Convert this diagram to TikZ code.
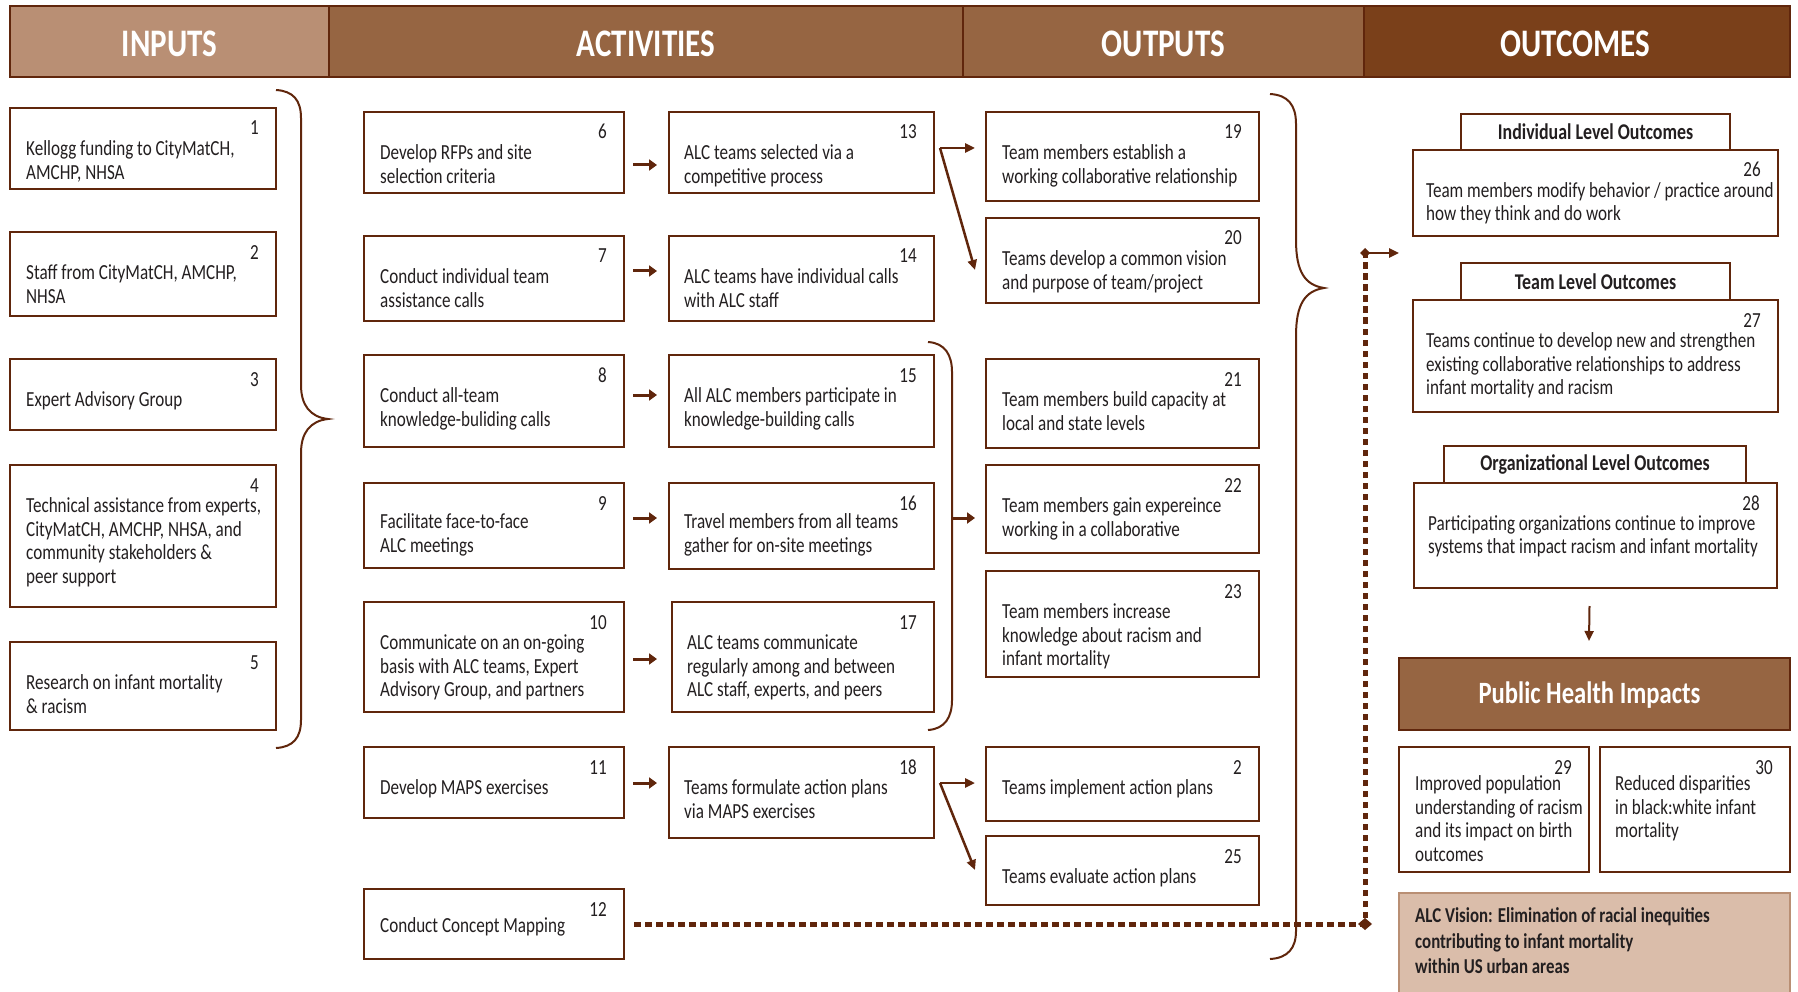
\documentclass[tikz,border=0pt]{standalone}
\usepackage{fontspec}
\setmainfont{Carlito}[FakeStretch=0.795]
\usetikzlibrary{arrows.meta,calc}
\definecolor{brd}{RGB}{96,38,12}
\definecolor{hdrA}{RGB}{185,143,116}
\definecolor{hdrB}{RGB}{150,101,66}
\definecolor{hdrC}{RGB}{122,64,26}
\definecolor{visf}{RGB}{218,189,170}
\definecolor{txtc}{RGB}{35,31,32}
\tikzset{
  lmb/.style={draw=brd, line width=2.5pt, fill=white, anchor=north west, inner sep=0pt, outer sep=0pt},
  lmnum/.style={anchor=base east, inner sep=0pt, font=\fontsize{21.5}{23.5}\selectfont, text=txtc},
  lmtxt/.style={anchor=north west, inner sep=0pt, align=left, font=\fontsize{21.5}{23.5}\selectfont, text=txtc},
  hdrtxt/.style={inner sep=0pt, font=\fontsize{39}{42}\selectfont\bfseries, text=white},
  tabtxt/.style={font=\fontsize{22.5}{24}\selectfont\bfseries, text=txtc},
  sarr/.style={draw=brd, line width=3pt, -{Triangle[length=8pt,width=11pt]}},
  farr/.style={draw=brd, line width=2.5pt, -{Triangle[length=10pt,width=9pt]}},
  bracel/.style={draw=brd, line width=2pt},
  dotl/.style={draw=brd, line width=5pt, dash pattern=on 6.5pt off 4.5pt},
}
\newcommand\lmbox[9][31]{%
  \node[lmb, minimum width=#5, minimum height=#6] (#2) at (#3,#4) {};
  \node[lmnum] (#2n) at ($(#2.north east)+(-17,27)$) {#7};
  \node[lmtxt] (#2t) at ($(#2.north west)+(#8,#1)$) {\strut #9};
}
\begin{document}
\begin{tikzpicture}[x=1pt,y=-1pt]
\useasboundingbox (0,0) rectangle (1798,992);
\fill[white] (0,0) rectangle (1798,992);

% header band
\fill[hdrA] (10,6) rectangle (329,77);
\fill[hdrB] (329,6) rectangle (1364,77);
\fill[hdrC] (1364,6) rectangle (1790,77);
\draw[brd, line width=2.5pt] (10,6) rectangle (1790,77);
\draw[brd, line width=2pt] (329,6) -- (329,77) (963,6) -- (963,77) (1364,6) -- (1364,77);
\node[hdrtxt] (hIn) at (169.5,44) {INPUTS};
\node[hdrtxt] (hAc) at (646,44) {ACTIVITIES};
\node[hdrtxt] (hOu) at (1163.5,44) {OUTPUTS};
\node[hdrtxt] (hOc) at (1575,44) {OUTCOMES};

% inputs
\lmbox{b1}{10}{108}{266}{81}{1}{16}{Kellogg funding to CityMatCH,\\AMCHP, NHSA}
\lmbox{b2}{10}{232}{266}{84}{2}{16}{Staff from CityMatCH, AMCHP,\\NHSA}
\lmbox{b3}{10}{359}{266}{71}{3}{16}{Expert Advisory Group}
\lmbox{b4}{10}{465}{266}{142}{4}{16}{Technical assistance from experts,\\CityMatCH, AMCHP, NHSA, and\\community stakeholders \&\\peer support}
\lmbox{b5}{10}{642}{266}{88}{5}{16}{Research on infant mortality\\\& racism}

% activities column 1
\lmbox{b6}{364}{112}{260}{81}{6}{16}{Develop RFPs and site\\selection criteria}
\lmbox{b7}{364}{236}{260}{85}{7}{16}{Conduct individual team\\assistance calls}
\lmbox{b8}{364}{355}{260}{92}{8}{16}{Conduct all-team\\knowledge-buliding calls}
\lmbox[29]{b9}{364}{483}{260}{85}{9}{16}{Facilitate face-to-face\\ALC meetings}
\lmbox{b10}{364}{602}{260}{110}{10}{16}{Communicate on an on-going\\basis with ALC teams, Expert\\Advisory Group, and partners}
\lmbox{b11}{364}{747}{260}{71}{11}{16}{Develop MAPS exercises}
\lmbox[27]{b12}{364}{889}{260}{70}{12}{16}{Conduct Concept Mapping}

% activities column 2
\lmbox{b13}{669}{112}{265}{81}{13}{15}{ALC teams selected via a\\competitive process}
\lmbox{b14}{669}{236}{265}{85}{14}{15}{ALC teams have individual calls\\with ALC staff}
\lmbox{b15}{669}{355}{265}{92}{15}{15}{All ALC members participate in\\knowledge-building calls}
\lmbox[29]{b16}{669}{483}{265}{86}{16}{15}{Travel members from all teams\\gather for on-site meetings}
\lmbox{b17}{672}{602}{262}{110}{17}{15}{ALC teams communicate\\regularly among and between\\ALC staff, experts, and peers}
\lmbox{b18}{669}{747}{265}{91}{18}{15}{Teams formulate action plans\\via MAPS exercises}

% outputs
\lmbox{b19}{986}{112}{273}{89}{19}{16}{Team members establish a\\working collaborative relationship}
\lmbox{b20}{986}{218}{273}{85}{20}{16}{Teams develop a common vision\\and purpose of team/project}
\lmbox{b21}{986}{359}{273}{89}{21}{16}{Team members build capacity at\\local and state levels}
\lmbox{b22}{986}{465}{273}{88}{22}{16}{Team members gain expereince\\working in a collaborative}
\lmbox{b23}{986}{571}{273}{106}{23}{16}{Team members increase\\knowledge about racism and\\infant mortality}
\lmbox{b24}{986}{747}{273}{74}{2}{16}{Teams implement action plans}
\lmbox{b25}{986}{836}{273}{69}{25}{16}{Teams evaluate action plans}

% outcomes
\node[lmb, minimum width=269, minimum height=36, tabtxt] (tab1) at (1461,114) {Individual Level Outcomes};
\lmbox[30.5]{b26}{1413}{150}{365}{86}{26}{13}{Team members modify behavior / practice around\\how they think and do work}
\node[lmb, minimum width=269, minimum height=37, tabtxt] (tab2) at (1461,263) {Team Level Outcomes};
\lmbox{b27}{1413}{300}{365}{112}{27}{13}{Teams continue to develop new and strengthen\\existing collaborative relationships to address\\infant mortality and racism}
\node[lmb, minimum width=302, minimum height=37, tabtxt] (tab3) at (1444,446) {Organizational Level Outcomes};
\lmbox[30.5]{b28}{1414}{483}{363}{105}{28}{14}{Participating organizations continue to improve\\systems that impact racism and infant mortality}

\node[lmb, fill=hdrB, minimum width=391, minimum height=72] (phi) at (1399,658) {};
\node[font=\fontsize{31}{34}\selectfont\bfseries, text=white] (phit) at ($(phi.center)+(-5,1)$) {Public Health Impacts};

\lmbox[27]{b29}{1399}{747}{190}{125}{29}{16}{Improved population\\understanding of racism\\and its impact on birth\\outcomes}
\lmbox[27]{b30}{1600}{747}{190}{125}{30}{15}{Reduced disparities\\in black:white infant\\mortality}

\node[lmb, draw=hdrA, line width=2pt, fill=visf, minimum width=391, minimum height=110] (vis) at (1399,893) {};
\node[anchor=north west, inner sep=0pt, align=left, font=\fontsize{21.2}{25.5}\selectfont\bfseries, text=txtc] (vist) at (1415,904.6) {\strut ALC Vision: Elimination of racial inequities\\contributing to infant mortality\\within US urban areas};

% braces
\draw[bracel] (276,90) .. controls (293,91) and (301,100) .. (301,118) -- (301,385)
  .. controls (301,405) and (310,417) .. (328,419)
  .. controls (310,421) and (301,433) .. (301,453) -- (301,720)
  .. controls (301,738) and (293,747) .. (276,748);
\draw[bracel] (1270,94) .. controls (1288,95) and (1296,105) .. (1296,124) -- (1296,240)
  .. controls (1296,272) and (1305,285) .. (1324,288)
  .. controls (1305,291) and (1296,304) .. (1296,336) -- (1296,931)
  .. controls (1296,948) and (1288,958) .. (1270,959);
\draw[bracel] (928,342) .. controls (945,343) and (952,355) .. (952,372) -- (952,700)
  .. controls (952,717) and (945,729) .. (928,730);
\coordinate (brmid) at (952,518);

% activity arrows
\draw[sarr] ($(b6.east)+(9,12.5)$) -- ($(b13.west)+(-12,12.5)$);
\draw[sarr] ($(b7.east)+(9,-7.5)$) -- ($(b14.west)+(-12,-7.5)$);
\draw[sarr] ($(b8.east)+(9,-6)$) -- ($(b15.west)+(-12,-6)$);
\draw[sarr] ($(b9.east)+(9,-7.5)$) -- ($(b16.west)+(-12,-8)$);
\draw[sarr] ($(b10.east)+(9,2)$) -- ($(b17.west)+(-15,2)$);
\draw[sarr] ($(b11.east)+(9,0.5)$) -- ($(b18.west)+(-12,-9.5)$);

% fan arrows
\coordinate (s13) at ($(b13.east)+(6,-4.5)$);
\draw[farr] (s13) -- ($(b19.west)+(-11,-8.5)$);
\draw[farr] (s13) -- ($(b20.west)+(-11,9.5)$);
\coordinate (s18) at ($(b18.east)+(6,-9.5)$);
\draw[farr] (s18) -- ($(b24.west)+(-11,-1)$);
\draw[farr] (s18) -- ($(b25.west)+(-11,-0.5)$);
\draw[sarr] (brmid) -- ($(b22.west)+(-11,9)$);

% dotted connector
\coordinate (dc) at (1365,924);
\coordinate (dt) at (1365,253);
\coordinate (de) at (1399,253);
\draw[dotl] ($(b12.east)+(10,0)$) -- (dc) -- (dt);
\fill[brd] ($(dc)+(-7,0)$) -- ($(dc)+(0,-6)$) -- ($(dc)+(7,0)$) -- ($(dc)+(0,6)$) -- cycle;
\fill[brd] ($(dt)+(-5,0)$) -- ($(dt)+(0,-5)$) -- ($(dt)+(5,0)$) -- ($(dt)+(0,5)$) -- cycle;
\draw[farr] (dt) -- (de);

% outcomes to impacts
\draw[draw=brd, line width=2pt, -{Triangle[length=10pt,width=9pt]}] ($(b28.south)+(-6,18)$) -- ($(phi.north)+(-5.5,-17)$);
\end{tikzpicture}
\end{document}
